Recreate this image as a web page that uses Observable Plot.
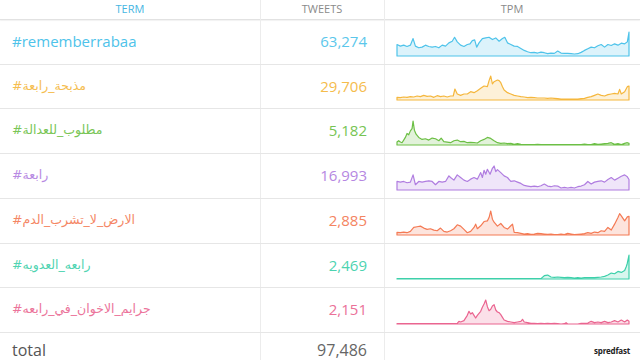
<!DOCTYPE html>
<html><head><meta charset="utf-8">
<script src="https://cdn.jsdelivr.net/npm/d3@7"></script>
<script src="https://cdn.jsdelivr.net/npm/@observablehq/plot@0.6"></script>
<style>
body{margin:0;background:#fff;font-family:"Open Sans","DejaVu Sans",sans-serif;}
#wrap{position:relative;width:640px;height:360px;overflow:hidden;background:#fff;}
.hd{position:absolute;top:0;height:19px;line-height:17px;font-size:11px;color:#8a8a8a;text-align:center;}
.hline{position:absolute;left:0;width:640px;height:1px;background:#e6e6e6;}
.vline{position:absolute;top:0;width:1px;height:360px;background:#ececec;}
.term{position:absolute;left:12px;font-size:15px;white-space:nowrap;}
.num{position:absolute;left:260px;width:107px;text-align:right;font-size:15px;}
.spark{position:absolute;left:396px;}
.spark svg{display:block;}
</style></head><body><div id="wrap"></div>
<script>
const headers = ["TERM", "TWEETS", "TPM"];
const terms = ["#rememberrabaa", "#مذبحة_رابعة", "#مطلوب_للعدالة", "#رابعة", "#الارض_لا_تشرب_الدم", "#رابعه_العدويه", "#جرايم_الاخوان_في_رابعه"];
const tweets = [63274, 29706, 5182, 16993, 2885, 2469, 2151];
const totalLabel = "total";
const total = 97486;
const colors = ["#4ec3ea", "#f5b73d", "#6cbf45", "#b07de0", "#f47a54", "#3dd0aa", "#ea6590"];

const tpmRemember = [[0,35],[10,30],[20,33],[30,29],[40,33],[48,53],[55,30],[65,25],[75,27],[85,33],[95,29],[105,27],[115,29],[125,25],[135,33],[145,30],[155,40],[165,45],[172,57],[180,43],[190,33],[200,29],[210,35],[218,37],[225,47],[232,49],[238,27],[245,40],[255,53],[265,55],[275,57],[285,50],[295,55],[305,45],[315,53],[322,57],[330,40],[340,35],[350,30],[360,29],[370,23],[380,17],[390,13],[400,10],[410,11],[420,9],[430,12],[440,10],[450,7],[460,9],[470,8],[480,15],[490,9],[500,8],[510,8],[520,7],[530,6],[540,7],[550,11],[560,17],[570,22],[580,27],[590,25],[600,31],[610,35],[620,27],[630,35],[640,32],[650,37],[660,33],[670,39],[680,37],[688,43],[693,73]];
const tpmMadhbaha = [[0,8],[10,7],[20,9],[30,8],[40,10],[50,9],[60,12],[70,10],[80,14],[90,11],[100,12],[110,8],[120,13],[130,10],[140,12],[150,9],[160,12],[168,12],[173,33],[180,18],[190,14],[200,18],[210,18],[220,25],[230,22],[240,28],[250,35],[260,42],[270,40],[275,58],[280,72],[285,48],[290,55],[300,60],[305,58],[310,52],[315,40],[320,30],[330,22],[340,18],[350,14],[360,12],[370,10],[380,9],[390,7],[400,8],[410,7],[420,6],[430,6],[440,6],[450,5],[460,6],[470,5],[480,4],[490,3],[500,3],[510,3],[520,3],[530,3],[540,3],[550,4],[560,5],[570,8],[580,10],[590,14],[600,18],[610,14],[620,12],[630,16],[640,18],[650,20],[660,18],[665,32],[670,18],[680,25],[688,40],[693,42]];
const tpmMatloub = [[0,9],[5,13],[10,9],[15,7],[20,15],[25,23],[30,35],[35,31],[40,43],[45,50],[48,73],[52,45],[57,33],[65,23],[75,17],[85,19],[95,15],[105,21],[115,19],[125,13],[132,21],[140,10],[150,9],[160,7],[170,13],[180,15],[190,10],[200,11],[210,7],[220,8],[230,7],[240,6],[250,13],[260,17],[270,23],[280,20],[290,13],[300,7],[310,5],[320,6],[330,4],[340,5],[350,2],[360,4],[370,2],[380,1],[390,1],[400,1],[410,1],[420,2],[430,1],[440,1],[450,1],[460,1],[470,1],[480,1],[490,1],[500,1],[510,1],[520,1],[530,1],[540,1],[550,1],[560,3],[570,1],[580,1],[590,4],[600,2],[610,3],[620,4],[630,5],[640,7],[650,2],[660,4],[670,1],[680,5],[688,7],[693,5]];
const tpmRabaa = [[0,26],[10,24],[20,26],[30,22],[40,24],[48,46],[55,16],[65,26],[75,24],[85,26],[95,28],[105,26],[115,16],[125,26],[135,24],[145,26],[155,43],[160,38],[170,30],[180,46],[190,38],[200,30],[210,26],[220,33],[230,38],[240,33],[250,53],[255,38],[260,60],[265,48],[270,63],[278,48],[285,66],[290,73],[295,56],[300,62],[310,53],[320,43],[330,38],[340,26],[350,28],[360,24],[370,20],[380,14],[390,12],[400,10],[410,12],[420,10],[430,13],[440,18],[450,12],[460,10],[470,13],[480,12],[490,6],[500,8],[510,6],[520,8],[530,6],[540,10],[550,12],[560,16],[570,26],[580,18],[590,24],[600,26],[610,28],[620,24],[630,32],[640,38],[650,30],[660,36],[670,42],[680,46],[688,40],[693,32]];
const tpmArd = [[0,8],[10,7],[20,9],[30,7],[40,11],[50,23],[60,25],[70,27],[80,21],[90,17],[100,19],[110,15],[120,13],[130,21],[140,11],[150,9],[160,13],[170,19],[180,31],[190,27],[200,17],[210,7],[220,11],[230,23],[235,33],[240,19],[250,28],[260,41],[270,43],[275,53],[280,73],[285,48],[290,39],[300,27],[310,35],[320,23],[330,18],[340,28],[345,33],[350,8],[360,7],[370,5],[380,3],[390,4],[400,2],[410,3],[420,5],[430,4],[440,3],[450,2],[460,3],[470,1],[480,1],[490,3],[500,1],[510,5],[520,3],[530,1],[540,2],[550,3],[560,4],[570,7],[580,5],[590,9],[600,7],[610,13],[620,11],[630,23],[640,15],[650,33],[660,53],[665,65],[670,58],[680,43],[688,55],[693,57]];
const tpmAdawiya = [[0,1],[50,1],[100,1],[150,1],[200,1],[250,1],[300,1],[350,1],[400,1],[430,1],[440,10],[450,12],[460,6],[470,5],[480,6],[490,5],[500,4],[510,5],[520,4],[530,3],[540,4],[550,3],[560,4],[570,4],[580,4],[590,4],[600,5],[610,6],[620,8],[630,12],[640,18],[650,16],[660,23],[670,20],[680,26],[685,38],[688,48],[693,73]];
const tpmJarayim = [[0,1],[50,1],[100,1],[150,1],[175,1],[180,2],[185,8],[190,6],[200,10],[210,26],[215,38],[220,30],[225,34],[230,26],[235,18],[240,26],[250,38],[255,50],[260,60],[265,72],[270,52],[275,40],[280,44],[285,54],[290,58],[295,42],[300,36],[305,34],[310,28],[315,20],[320,12],[330,8],[340,6],[350,4],[360,6],[370,8],[375,14],[380,6],[390,4],[400,2],[410,2],[420,1],[430,2],[440,1],[450,2],[460,1],[470,2],[480,1],[490,0],[500,1],[505,4],[510,0],[520,0],[530,0],[540,0],[550,2],[560,2],[570,3],[580,8],[590,4],[600,6],[610,4],[620,8],[630,4],[640,6],[650,10],[660,6],[670,12],[680,6],[688,12],[693,8]];
const series = [tpmRemember, tpmMadhbaha, tpmMatloub, tpmRabaa, tpmArd, tpmAdawiya, tpmJarayim];

const wrap = document.getElementById("wrap");
const fmt = d3.format(",");
function el(cls, style, text) {
  const d = document.createElement("div");
  d.className = cls;
  Object.assign(d.style, style);
  if (text != null) d.textContent = text;
  wrap.appendChild(d);
  return d;
}
// header
const colEdges = [0, 260, 384, 640];
headers.forEach((h, i) => {
  el("hd", {left: colEdges[i] + "px", width: (colEdges[i+1] - colEdges[i]) + "px", color: i === 0 ? "#46b6e2" : "#8a8a8a"}, h);
});
el("hline", {top: "19px", background: "#e2e2e2", boxShadow: "0 1px 1px rgba(0,0,0,0.06)"});
el("vline", {left: "260px"});
el("vline", {left: "384px"});

const top0 = 19, rowH = 44.7;
const arabic = /[\u0600-\u06FF]/;
terms.forEach((t, i) => {
  const rt = top0 + i * rowH;
  const isAr = arabic.test(t);
  el("term", {top: rt + "px", height: rowH + "px", lineHeight: rowH + "px", color: colors[i],
    fontSize: isAr ? "12.5px" : "15px", fontFamily: isAr ? "'DejaVu Sans', sans-serif" : null,
    letterSpacing: isAr ? "-0.3px" : null, opacity: isAr ? 0.9 : 1}, t);
  el("num", {top: rt + "px", height: rowH + "px", lineHeight: rowH + "px", color: colors[i], opacity: 0.92}, fmt(tweets[i]));
  el("hline", {top: (rt + rowH) + "px"});
  const data = series[i].map(([t, v]) => ({t, v}));
  const chart = Plot.plot({
    width: 234, height: 26, margin: 1,
    x: {domain: [0, 693], axis: null},
    y: {domain: [0, d3.max(data, d => d.v)], axis: null},
    marks: [
      Plot.areaY(data, {x: "t", y: "v", fill: colors[i], fillOpacity: 0.2, stroke: colors[i], strokeWidth: 1.2, strokeLinejoin: "round"})
    ]
  });
  const s = el("spark", {top: (rt + 11.7) + "px"});
  s.appendChild(chart);
});
const tt = top0 + 7 * rowH;
el("term", {top: tt + "px", height: "28px", lineHeight: "36px", color: "#555", fontSize: "16px"}, totalLabel);
el("num", {top: tt + "px", height: "28px", lineHeight: "36px", color: "#666", fontSize: "16px"}, fmt(total));
el("term", {left: "594px", top: (tt + 13) + "px", fontSize: "8px", fontWeight: "bold", color: "#222", letterSpacing: "-0.2px"}, "spredfast");
</script></body></html>
